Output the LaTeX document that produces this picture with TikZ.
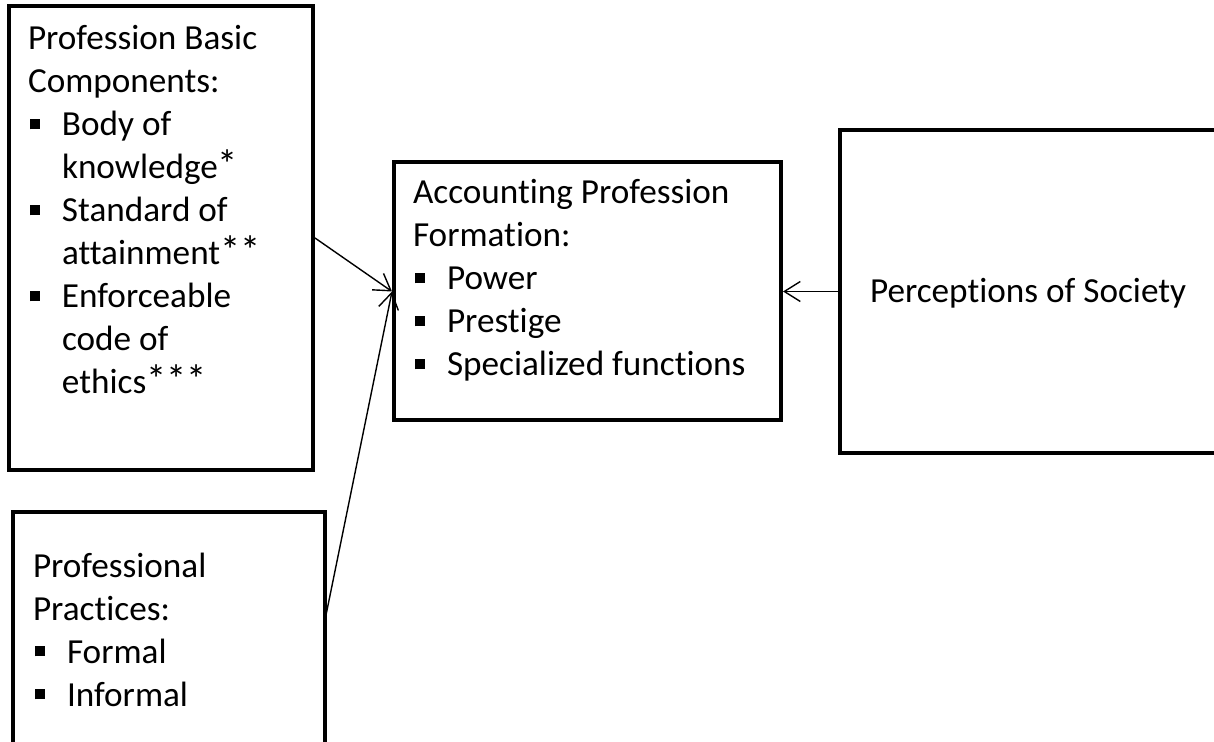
\documentclass[tikz,border=0pt]{standalone}
\usepackage{graphicx}
\usepackage{fontspec}
\setmainfont[Ligatures={NoCommon}]{Carlito}
\usetikzlibrary{arrows.meta}
\newcommand\bitem[1]{\makebox[17pt][l]{\hspace{1pt}\rule[3.3pt]{5pt}{5pt}}#1}
\newcommand\contline[1]{\hspace{17pt}#1}
\newcommand\myast{\smash{\scalebox{1.15}{*}}}
\tikzset{
  box/.style={draw=black, line width=2pt, inner sep=0pt, fill=none},
  txt/.style={anchor=base west, inner sep=0pt, outer sep=0pt, font=\fontsize{17.6pt}{21.5pt}\selectfont},
  conn/.style={line width=0.7pt, -{Straight Barb[length=8pt,width=10pt,line width=0.7pt]}}
}
\begin{document}
\begin{tikzpicture}[x=0.5pt,y=-0.5pt]
\useasboundingbox (0,0) rectangle (1214,742);
\clip (0,0) rectangle (1214,742);
\fill[white] (0,0) rectangle (1214,742);
% boxes
\node[box, minimum width=152pt, minimum height=232pt] (b1) at (161,238) {};
\node[box, minimum width=156pt, minimum height=144pt] (b2) at (169,656) {};
\node[box, minimum width=193.5pt, minimum height=129pt] (b3) at (587.5,291.5) {};
\node[box, minimum width=205pt, minimum height=161.5pt] (b4) at (1045,291.5) {};
% texts
\node[txt] (t1) at (28,50) {\begin{tabular}[t]{@{}l@{}}
Profession Basic\\
Components:\\
\bitem{Body of}\\
\contline{knowledge\myast}\\
\bitem{Standard of}\\
\contline{attainment\myast\myast}\\
\bitem{Enforceable}\\
\contline{code of}\\
\contline{ethics\myast\myast\myast}
\end{tabular}};
\node[txt] (t2) at (33,577) {\begin{tabular}[t]{@{}l@{}}
Professional\\
Practices:\\
\bitem{Formal}\\
\bitem{Informal}
\end{tabular}};
\node[txt] (t3) at (413,204) {\begin{tabular}[t]{@{}l@{}}
Accounting Profession\\
Formation:\\
\bitem{Power}\\
\bitem{Prestige}\\
\bitem{Specialized functions}
\end{tabular}};
\node[txt] (t4) at (870,303) {Perceptions of Society};
% connectors
\coordinate (b2out) at (325,620);
\draw[conn] (b1.east) -- (b3.west);
\draw[conn] (b2out) -- (b3.west);
\draw[conn] (b4.west) -- (b3.east);
\end{tikzpicture}
\end{document}
